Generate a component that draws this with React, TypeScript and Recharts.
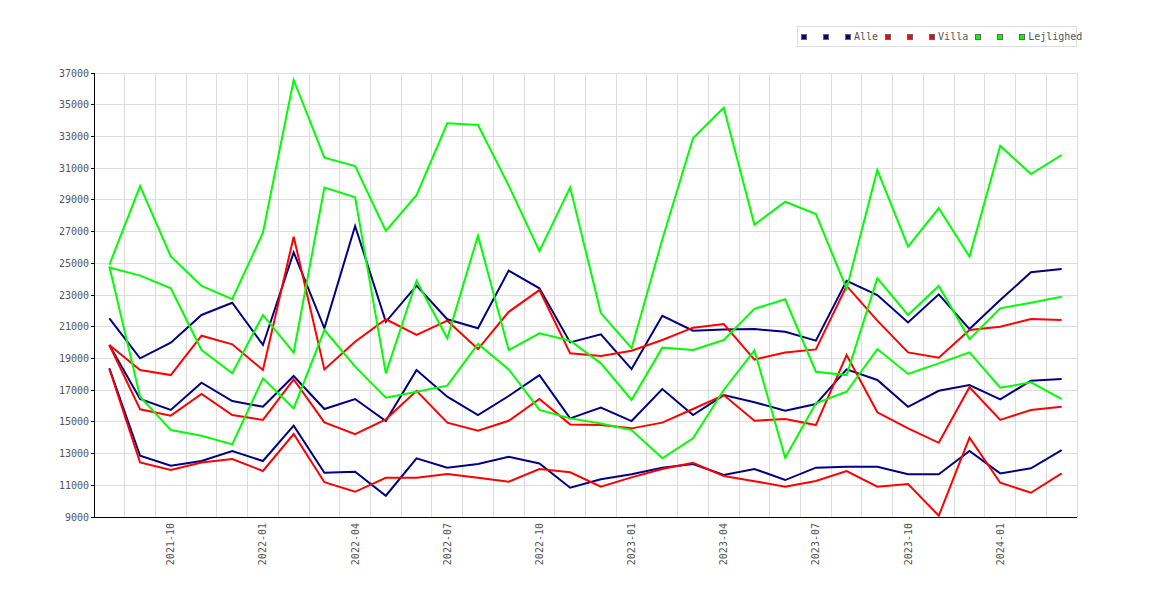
import React from 'react';
import { LineChart, Line, XAxis, YAxis, CartesianGrid } from 'recharts';

const months = [
  '2021-08', '2021-09', '2021-10', '2021-11', '2021-12', '2022-01', '2022-02', '2022-03',
  '2022-04', '2022-05', '2022-06', '2022-07', '2022-08', '2022-09', '2022-10', '2022-11',
  '2022-12', '2023-01', '2023-02', '2023-03', '2023-04', '2023-05', '2023-06', '2023-07',
  '2023-08', '2023-09', '2023-10', '2023-11', '2023-12', '2024-01', '2024-02', '2024-03',
];

const xTicks = ['2021-10', '2022-01', '2022-04', '2022-07', '2022-10', '2023-01', '2023-04', '2023-07', '2023-10', '2024-01'];
const yTicks = [9000, 11000, 13000, 15000, 17000, 19000, 21000, 23000, 25000, 27000, 29000, 31000, 33000, 35000, 37000];

// Alle
const alleHigh = [21530, 19010, 19990, 21740, 22510, 19850, 25690, 20900, 27350, 21310, 23590, 21470, 20900, 24540, 23420, 20010, 20520, 18330, 21690, 20750, 20830, 20850, 20680, 20120, 23900, 23000, 21270, 23040, 20850, 22680, 24430, 24640];
const alleMid = [19850, 16440, 15750, 17470, 16310, 15950, 17890, 15810, 16440, 15050, 18270, 16590, 15430, 16630, 17950, 15220, 15900, 15050, 17070, 15430, 16690, 16240, 15700, 16120, 18310, 17640, 15950, 16960, 17320, 16420, 17600, 17700];
const alleLow = [18380, 12860, 12230, 12530, 13160, 12530, 14760, 11790, 11850, 10340, 12700, 12110, 12340, 12800, 12380, 10850, 11380, 11690, 12110, 12340, 11650, 12030, 11330, 12110, 12170, 12170, 11690, 11690, 13160, 11750, 12070, 13220];

// Villa
const villaHigh = [19850, 18270, 17950, 20430, 19890, 18270, 26680, 18310, 20050, 21470, 20480, 21380, 19590, 21940, 23310, 19320, 19150, 19490, 20160, 20940, 21170, 18930, 19380, 19570, 23570, 21380, 19380, 19050, 20790, 21000, 21490, 21420];
const villaMid = [19850, 15790, 15390, 16760, 15430, 15120, 17680, 14970, 14230, 15160, 16960, 14950, 14440, 15070, 16440, 14840, 14800, 14590, 14950, 15810, 16690, 15070, 15180, 14800, 19210, 15600, 14590, 13680, 17180, 15120, 15750, 15950];
const villaLow = [18330, 12440, 11960, 12440, 12660, 11900, 14230, 11190, 10590, 11470, 11470, 11710, 11470, 11220, 12030, 11820, 10910, 11500, 12030, 12420, 11580, 11260, 10910, 11270, 11900, 10910, 11080, 9080, 14000, 11160, 10530, 11750];

// Lejlighed
const lejlHigh = [24900, 29870, 25430, 23570, 22730, 26930, 36560, 31660, 31130, 27040, 29300, 33830, 33720, 29900, 25770, 29790, 21860, 19640, 26500, 32880, 34810, 27430, 28880, 28100, 23400, 30880, 26050, 28470, 25420, 32400, 30630, 31830];
const lejlMid = [24730, 24220, 23420, 19530, 18060, 21740, 19360, 29770, 29160, 18060, 23900, 20270, 26740, 19530, 20580, 20120, 18690, 16380, 19680, 19530, 20160, 22130, 22730, 18160, 17950, 24050, 21740, 23570, 20220, 22160, 22510, 22890];
const lejlLow = [24800, 16585, 14480, 14125, 13580, 17740, 15850, 20790, 18480, 16520, 16900, 17280, 19910, 18310, 15750, 15220, 14900, 14480, 12700, 13960, 17010, 19500, 12740, 16170, 16900, 19590, 18020, 18690, 19380, 17150, 17490, 16440];

const series = [
  { key: 'alleLow', values: alleLow, color: '#000080', label: '' },
  { key: 'alleHigh', values: alleHigh, color: '#000080', label: '' },
  { key: 'alleMid', values: alleMid, color: '#000080', label: 'Alle' },
  { key: 'villaLow', values: villaLow, color: '#ff0000', label: '' },
  { key: 'villaHigh', values: villaHigh, color: '#ff0000', label: '' },
  { key: 'villaMid', values: villaMid, color: '#ff0000', label: 'Villa' },
  { key: 'lejlLow', values: lejlLow, color: '#00ff00', label: '' },
  { key: 'lejlHigh', values: lejlHigh, color: '#00ff00', label: '' },
  { key: 'lejlMid', values: lejlMid, color: '#00ff00', label: 'Lejlighed' },
];

const data = months.map((m, i) => {
  const row: Record<string, string | number> = { month: m };
  series.forEach((s) => { row[s.key] = s.values[i]; });
  return row;
});

const FONT = '"DejaVu Sans Mono", monospace';

const XTick = (props: any) => {
  const { x, y, payload } = props;
  const tx = x + 3.5;
  const ty = y;
  return (
    <text x={tx} y={ty} transform={`rotate(-90, ${tx}, ${ty})`} textAnchor="end"
      fill="#555" fontSize={10} fontFamily={FONT}>
      {payload.value}
    </text>
  );
};

// gridlines sit on the month boundaries, not on the points
const bandGrid = ({ offset }: any) => {
  const left = offset?.left ?? 86;
  const w = offset?.width ?? 983;
  return months.map((_, k) => left + ((k + 1) * w) / months.length);
};

const axisLine = { stroke: '#000', strokeWidth: 1, shapeRendering: 'crispEdges' };

const App: React.FC = () => {
  return (
    <div style={{ position: 'relative', width: 1154, height: 584 }}>
      <LineChart width={1154} height={584} data={data}
        margin={{ top: 65, right: 85, bottom: 15, left: 26 }}>
        <CartesianGrid stroke="#dddddd" shapeRendering="crispEdges" verticalCoordinatesGenerator={bandGrid} />
        <XAxis dataKey="month" ticks={xTicks} interval={0} height={60}
          padding={{ left: 15.36, right: 15.36 }} stroke="#000"
          axisLine={axisLine} tickLine={false} tickSize={4} tickMargin={2}
          tick={<XTick />} />
        <YAxis domain={[9000, 37000]} ticks={yTicks} width={60} interval={0} stroke="#000"
          axisLine={axisLine} tickLine={{ stroke: '#000', shapeRendering: 'crispEdges' }} tickSize={3}
          tick={{ fill: '#555', fontSize: 10, fontFamily: FONT }} />
        {series.map((s) => (
          <Line key={s.key} type="linear" dataKey={s.key} stroke={s.color} strokeWidth={2}
            dot={false} activeDot={false} isAnimationActive={false} />
        ))}
      </LineChart>
      <div style={{
        position: 'absolute', left: 789, top: 18, width: 280, height: 21, boxSizing: 'border-box',
        border: '1px solid #dddddd', paddingLeft: 3, display: 'flex', alignItems: 'center',
        whiteSpace: 'nowrap', fontFamily: FONT, fontSize: 10, color: '#555', background: '#fff',
      }}>
        {series.map((s) => (
          <span key={s.key} style={{ display: 'inline-flex', alignItems: 'center', marginRight: s.label ? 7 : 16 }}>
            <span style={{ width: 6, height: 6, boxSizing: 'border-box', background: s.color, border: '1px solid #666', display: 'inline-block' }} />
            {s.label && <span style={{ marginLeft: 3 }}>{s.label}</span>}
          </span>
        ))}
      </div>
    </div>
  );
};

export default App;
